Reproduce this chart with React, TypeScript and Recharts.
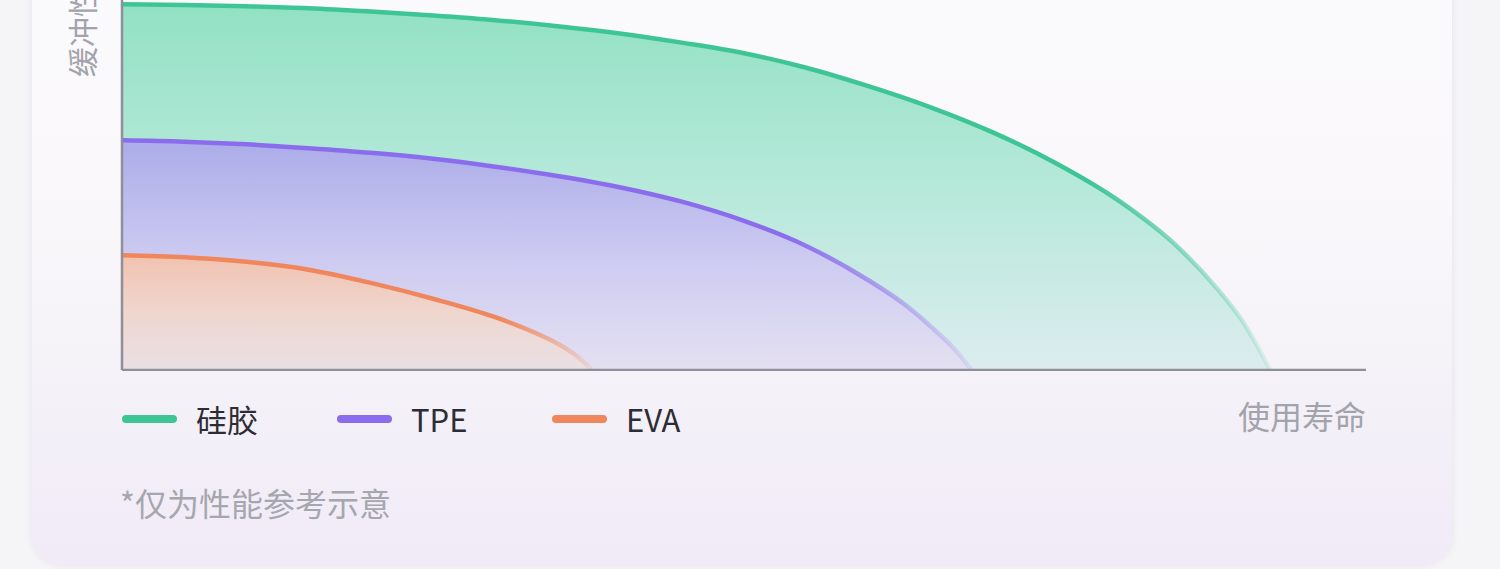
import React from 'react';
import { AreaChart, Area, XAxis, YAxis, CartesianGrid } from 'recharts';

// ---- data ----
const lifeSilicone = [0, 5, 10, 15, 20, 25, 30, 35, 40, 45, 50, 55, 60, 65, 70, 75, 80, 85, 88, 90, 92.3];
const cushionSilicone = [277, 276.5, 275.5, 274, 271.5, 268.5, 265, 260.5, 255, 248, 240, 229, 215, 199, 180, 157, 129, 92, 62, 38, 0];
const lifeTPE = [0, 5, 10, 15, 20, 25, 30, 35, 40, 45, 50, 55, 60, 63, 65, 67, 68.3];
const cushionTPE = [174, 173, 171, 168, 164.5, 160, 154, 147, 138.5, 127.5, 113, 94, 68, 49, 33, 15, 0];
const lifeEVA = [0, 5, 10, 15, 20, 25, 30, 33, 35, 36.5, 37.8];
const cushionEVA = [87, 85.5, 82, 76, 66, 54, 40, 29, 20, 11, 0];

const seriesNames = ['硅胶', 'TPE', 'EVA'];
const yTicks = [0, 100, 200, 300];
const xAxisTitle = '使用寿命';
const yAxisTitle = '缓冲性能';
const footnote = '*仅为性能参考示意';

const toPoints = (xs: number[], ys: number[]) => xs.map((x, i) => ({ life: x, cushion: ys[i] }));

const series = [
  { key: 'sil', name: seriesNames[0], data: toPoints(lifeSilicone, cushionSilicone), stroke: '#3ec596', top: '#92e1c4', mid: '#b6e9da', bottom: '#dcecef', fadeAt: '84%' },
  { key: 'tpe', name: seriesNames[1], data: toPoints(lifeTPE, cushionTPE), stroke: '#8b6ced', top: '#abace9', mid: '#cccaf1', bottom: '#e4e0f1', fadeAt: '78%' },
  { key: 'eva', name: seriesNames[2], data: toPoints(lifeEVA, cushionEVA), stroke: '#f0865b', top: '#f1c2b0', mid: '#efd6cf', bottom: '#e9e0e4', fadeAt: '80%' },
];

const FONT = '"Noto Sans CJK SC", "Noto Sans", sans-serif';
const AXIS = '#8f8f99';

export default function App() {
  return (
    <div style={{ position: 'absolute', top: 0, left: 0, width: 1500, height: 569, overflow: 'hidden', background: '#f5f4f7', fontFamily: FONT }}>
      <div style={{ position: 'absolute', left: 32, top: -40, width: 1420, height: 605, borderRadius: 30, background: 'linear-gradient(180deg, #fbfafc 0%, #f9f7fa 45%, #f4f0f8 75%, #f0ebf7 100%)', boxShadow: '0 0 6px rgba(200,195,215,0.35)' }} />
      <div style={{ position: 'absolute', left: 0, top: -60 }}>
        <AreaChart width={1500} height={431} margin={{ top: 34, right: 134, bottom: 0, left: 0 }}>
          <defs>
            {series.map((s) => (
              <linearGradient key={`f-${s.key}`} id={`fill-${s.key}`} x1="0" y1="0" x2="0" y2="1">
                <stop offset="0%" stopColor={s.top} />
                <stop offset="50%" stopColor={s.mid} />
                <stop offset="100%" stopColor={s.bottom} />
              </linearGradient>
            ))}
            {series.map((s) => (
              <linearGradient key={`s-${s.key}`} id={`stroke-${s.key}`} x1="0" y1="0" x2="1" y2="0">
                <stop offset="0%" stopColor={s.stroke} stopOpacity={1} />
                <stop offset={s.fadeAt} stopColor={s.stroke} stopOpacity={1} />
                <stop offset="100%" stopColor={s.stroke} stopOpacity={0.12} />
              </linearGradient>
            ))}
          </defs>
          <CartesianGrid vertical={false} stroke="#eae9ee" strokeWidth={2} />
          <XAxis type="number" dataKey="life" domain={[0, 100]} tick={false} tickLine={false} height={1} axisLine={{ stroke: AXIS, strokeWidth: 2.5 }} allowDataOverflow />
          <YAxis type="number" domain={[0, 300]} ticks={yTicks} tick={false} tickLine={false} width={122} axisLine={{ stroke: AXIS, strokeWidth: 2.5 }} />
          {series.map((s) => (
            <Area
              key={s.key}
              name={s.name}
              data={s.data}
              dataKey="cushion"
              type="monotone"
              stroke={`url(#stroke-${s.key})`}
              strokeWidth={4.5}
              fill={`url(#fill-${s.key})`}
              fillOpacity={1}
              isAnimationActive={false}
              dot={false}
              activeDot={false}
            />
          ))}
        </AreaChart>
      </div>
      {/* y axis title */}
      <div style={{ position: 'absolute', left: 81, top: 17, transform: 'translate(-50%, -50%) rotate(-90deg)', fontSize: 30, color: '#a3a3ab', whiteSpace: 'nowrap', lineHeight: 1 }}>{yAxisTitle}</div>
      {/* x axis title */}
      <div style={{ position: 'absolute', right: 134, top: 396, fontSize: 32, color: '#a3a3ab', whiteSpace: 'nowrap', lineHeight: '38px' }}>{xAxisTitle}</div>
      {/* legend */}
      <div style={{ position: 'absolute', left: 122, top: 401, display: 'flex' }}>
        {series.map((s) => (
          <div key={s.key} style={{ width: 215, display: 'flex', alignItems: 'center', height: 36 }}>
            <div style={{ width: 55, height: 8, borderRadius: 4, background: s.stroke, marginRight: 19 }} />
            <span style={{ fontSize: 31, color: '#2c2c34', lineHeight: '36px' }}>{s.name}</span>
          </div>
        ))}
      </div>
      {/* footnote */}
      <div style={{ position: 'absolute', left: 120, top: 483, fontSize: 32, color: '#a6a6ae', whiteSpace: 'nowrap', lineHeight: '38px' }}>{footnote}</div>
    </div>
  );
}
